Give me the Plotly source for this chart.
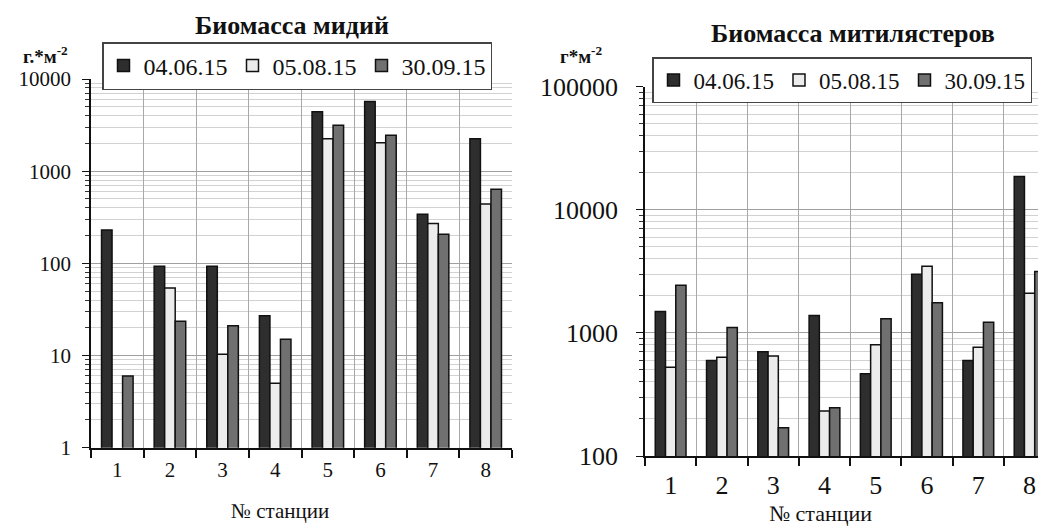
import plotly.graph_objects as go

stations = ["1", "2", "3", "4", "5", "6", "7", "8"]
series_names = ["04.06.15", "05.08.15", "30.09.15"]

# Биомасса мидий (г*м-2)
mussels_0406 = [230, 93, 93, 27, 4400, 5700, 340, 2250]
mussels_0508 = [None, 54, 10.3, 5, 2250, 2030, 270, 440]
mussels_3009 = [6, 23.5, 21, 15, 3150, 2460, 207, 637]

# Биомасса митилястеров (г*м-2)
mytil_0406 = [1490, 597, 703, 1385, 466, 3000, 597, 18600]
mytil_0508 = [527, 635, 650, 232, 800, 3480, 766, 2100]
mytil_3009 = [2440, 1107, 170, 247, 1300, 1755, 1222, 3150]

left_tickvals = [1, 10, 100, 1000, 10000]
left_ticktext = ["1", "10", "100", "1000", "10000"]
right_tickvals = [100, 1000, 10000, 100000]
right_ticktext = ["100", "1000", "10000", "100000"]

colors = ["#2e2e2e", "#ececec", "#707070"]
offsets = [-0.3, -0.1, 0.1]
FONT = "Liberation Serif, Times New Roman, serif"

# page body has an 8px margin, so the figure is drawn offset by 8px
W, H = 1038, 521
OFF = 8


def px(x):
    return (x - OFF) / W


def py(y):
    return 1 - (y - OFF) / H


fig = go.Figure()

left_data = [mussels_0406, mussels_0508, mussels_3009]
right_data = [mytil_0406, mytil_0508, mytil_3009]

for i, (name, vals) in enumerate(zip(series_names, left_data)):
    fig.add_trace(go.Bar(
        x=stations, y=vals, name=name, xaxis="x", yaxis="y",
        width=0.2, offset=offsets[i],
        marker=dict(color=colors[i], line=dict(color="#111111", width=1.5)),
        legend="legend",
    ))
for i, (name, vals) in enumerate(zip(series_names, right_data)):
    fig.add_trace(go.Bar(
        x=stations, y=vals, name=name, xaxis="x2", yaxis="y2",
        width=0.2, offset=offsets[i],
        marker=dict(color=colors[i], line=dict(color="#111111", width=1.5)),
        legend="legend2",
    ))

xcommon = dict(
    type="category", tickson="boundaries", showgrid=True, gridcolor="#a8a8a8",
    gridwidth=1, showline=True, linecolor="#111111", linewidth=2,
    ticks="outside", ticklen=8, tickwidth=2, tickcolor="#111111", automargin=False,
)
ycommon = dict(
    type="log", showline=True, linecolor="#111111", linewidth=1.5,
    ticks="outside", ticklen=7, tickcolor="#111111", tickmode="array",
    showgrid=True, gridcolor="#a0a0a0", gridwidth=1, zeroline=False, automargin=False,
    minor=dict(dtick="D1", showgrid=True, gridcolor="#d2d2d2", ticks="outside",
               ticklen=4, tickcolor="#333333"),
)

fig.update_layout(
    width=W, height=H,
    margin=dict(l=0, r=0, t=0, b=0, autoexpand=False),
    paper_bgcolor="white", plot_bgcolor="white",
    barmode="group", showlegend=True,
    font=dict(family=FONT, color="#111111"),
    xaxis=dict(domain=[px(91), px(512)], anchor="y", range=[-0.5, 7.5],
               tickfont=dict(size=21, family=FONT), ticklabelstandoff=2, **xcommon),
    yaxis=dict(domain=[py(447.7), py(79)], anchor="x", range=[0, 4],
               tickvals=left_tickvals, ticktext=left_ticktext, ticklabelstandoff=7,
               tickfont=dict(size=21, family=FONT), **ycommon),
    xaxis2=dict(domain=[px(645), 1.0], anchor="y2", range=[-0.5, 7.32],
                tickfont=dict(size=26, family=FONT), ticklabelstandoff=5, **xcommon),
    yaxis2=dict(domain=[py(456), py(86.7)], anchor="x2", range=[2, 5],
                tickvals=right_tickvals, ticktext=right_ticktext, ticklabelstandoff=13,
                tickfont=dict(size=26, family=FONT), **ycommon),
    legend=dict(orientation="h", x=px(102), y=py(42), xanchor="left", yanchor="top",
                bgcolor="white", bordercolor="#444444", borderwidth=1.5,
                font=dict(size=24, family=FONT), itemwidth=30),
    legend2=dict(orientation="h", x=px(652), y=py(57), xanchor="left", yanchor="top",
                 bgcolor="white", bordercolor="#444444", borderwidth=1.5,
                 font=dict(size=23, family=FONT), itemwidth=30),
    annotations=[
        dict(text="<b>Биомасса мидий</b>", x=px(292), y=py(25), xref="paper", yref="paper",
             showarrow=False, font=dict(size=26, family=FONT), xanchor="center", yanchor="middle"),
        dict(text="<b>г.*м<sup>-2</sup></b>", x=px(45), y=py(55), xref="paper", yref="paper",
             showarrow=False, font=dict(size=19, family=FONT), xanchor="center", yanchor="middle"),
        dict(text="№ станции", x=px(280), y=py(511), xref="paper", yref="paper",
             showarrow=False, font=dict(size=21, family=FONT), xanchor="center", yanchor="middle"),
        dict(text="<b>Биомасса митилястеров</b>", x=px(853), y=py(33), xref="paper", yref="paper",
             showarrow=False, font=dict(size=26, family=FONT), xanchor="center", yanchor="middle"),
        dict(text="<b>г*м<sup>-2</sup></b>", x=px(581), y=py(55), xref="paper", yref="paper",
             showarrow=False, font=dict(size=19, family=FONT), xanchor="center", yanchor="middle"),
        dict(text="№ станции", x=px(820), y=py(513), xref="paper", yref="paper",
             showarrow=False, font=dict(size=22, family=FONT), xanchor="center", yanchor="middle"),
    ],
)

fig.write_html("out.html")
